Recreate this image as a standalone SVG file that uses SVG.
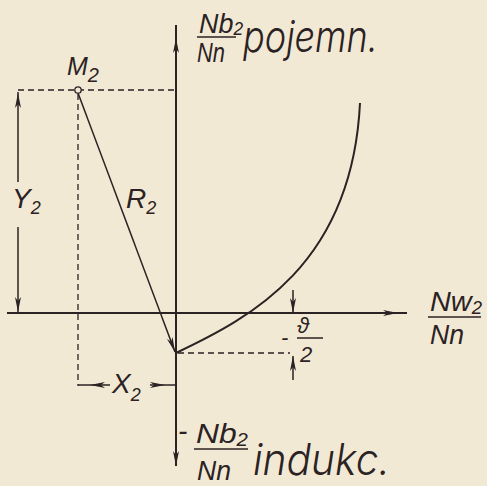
<svg xmlns="http://www.w3.org/2000/svg" xmlns:xlink="http://www.w3.org/1999/xlink" width="487" height="486" viewBox="0 0 487 486">
<style>
.ln{stroke:#2b2224;stroke-width:2;fill:none}
.thin{stroke:#2b2224;stroke-width:1.5;fill:none}
.dash{stroke:#2b2224;stroke-width:1.3;fill:none;stroke-dasharray:6 4}
.ah{fill:#2b2224}
text{font-family:"Liberation Sans",Arial,sans-serif;font-style:italic;fill:#2b2224}
.big{font-family:Inter,"Liberation Sans",sans-serif;font-weight:300;font-size:44px}
.lab{font-size:28px}
.sub{font-size:18px}
</style>
<defs>
<path id="ah" d="M0,0 L-15,-3 L-11,0 L-15,3 Z"/>
</defs>
<rect width="487" height="486" fill="#f2e9d4"/>
<g id="axes">
<line class="ln" x1="176" y1="25" x2="176" y2="466"/>
<line class="ln" x1="7" y1="313" x2="407" y2="313"/>
<use class="ah" xlink:href="#ah" transform="translate(176,38) rotate(-90)"/>
<use class="ah" xlink:href="#ah" transform="translate(176,466) rotate(90)"/>
<use class="ah" xlink:href="#ah" transform="translate(398,313)"/>
</g>
<g id="dashes">
<line class="dash" x1="18" y1="90" x2="176" y2="90"/>
<line class="dash" x1="78" y1="94" x2="78" y2="386"/>
<line class="dash" x1="178" y1="353" x2="290" y2="353"/>
</g>
<g id="dimensions">
<line class="thin" x1="18" y1="92" x2="18" y2="182"/>
<line class="thin" x1="18" y1="227" x2="18" y2="313"/>
<use class="ah" xlink:href="#ah" transform="translate(18,93) rotate(-90)"/>
<use class="ah" xlink:href="#ah" transform="translate(18,312) rotate(90)"/>
<line class="thin" x1="78" y1="385" x2="110" y2="385"/>
<line class="thin" x1="150" y1="385" x2="176" y2="385"/>
<use class="ah" xlink:href="#ah" transform="translate(90,385) rotate(180)"/>
<use class="ah" xlink:href="#ah" transform="translate(165,385)"/>
<line class="thin" x1="293" y1="290" x2="293" y2="313"/>
<line class="thin" x1="293" y1="356" x2="293" y2="380"/>
<use class="ah" xlink:href="#ah" transform="translate(293,313) rotate(90)"/>
<use class="ah" xlink:href="#ah" transform="translate(293,356) rotate(-90)"/>
</g>
<g id="R2">
<line class="thin" x1="78" y1="93" x2="175" y2="352"/>
<use class="ah" xlink:href="#ah" transform="translate(175,352) rotate(69.5)"/>
</g>
<g id="curve">
<path class="ln" d="M176,353 C250,318 352,265 360,103"/>
</g>
<g id="M2">
<circle cx="78" cy="90" r="3.2" fill="#f2e9d4" stroke="#2b2224" stroke-width="1.3"/>
<text x="67" y="75" font-size="25">M<tspan font-size="20" dy="7">2</tspan></text>
</g>
<g id="labels">
<text class="lab" x="12" y="208">Y<tspan class="sub" dy="6">2</tspan></text>
<text class="lab" x="126" y="208">R<tspan class="sub" dy="6">2</tspan></text>
<text class="lab" x="112" y="393">X<tspan class="sub" dy="8">2</tspan></text>
<text class="big" x="243" y="52" textLength="135" lengthAdjust="spacingAndGlyphs">pojemn.</text>
<text class="big" x="253" y="475" textLength="137" lengthAdjust="spacingAndGlyphs">indukc.</text>
<text class="lab" x="199" y="33" textLength="44" lengthAdjust="spacingAndGlyphs">Nb<tspan class="sub" dy="2">2</tspan></text>
<line class="thin" x1="197" y1="37" x2="236" y2="37"/>
<text class="lab" x="197" y="62" textLength="28" lengthAdjust="spacingAndGlyphs">Nn</text>
<text class="lab" x="430" y="311" textLength="52" lengthAdjust="spacingAndGlyphs">Nw<tspan class="sub" dy="3">2</tspan></text>
<line class="thin" x1="428" y1="317" x2="481" y2="317"/>
<text class="lab" x="430" y="344" textLength="34" lengthAdjust="spacingAndGlyphs">Nn</text>
<text class="lab" x="178" y="440">-</text>
<text class="lab" x="196" y="443" textLength="52" lengthAdjust="spacingAndGlyphs">Nb<tspan class="sub" dy="3">2</tspan></text>
<line class="thin" x1="194" y1="449" x2="248" y2="449"/>
<text class="lab" x="197" y="480" textLength="34" lengthAdjust="spacingAndGlyphs">Nn</text>
<text x="281" y="345" font-size="22">-</text>
<text x="297" y="333" font-size="22" font-style="normal">ϑ</text>
<line class="thin" x1="297" y1="338" x2="323" y2="338"/>
<text x="300" y="362" font-size="22" font-style="normal">2</text>
</g>
</svg>
